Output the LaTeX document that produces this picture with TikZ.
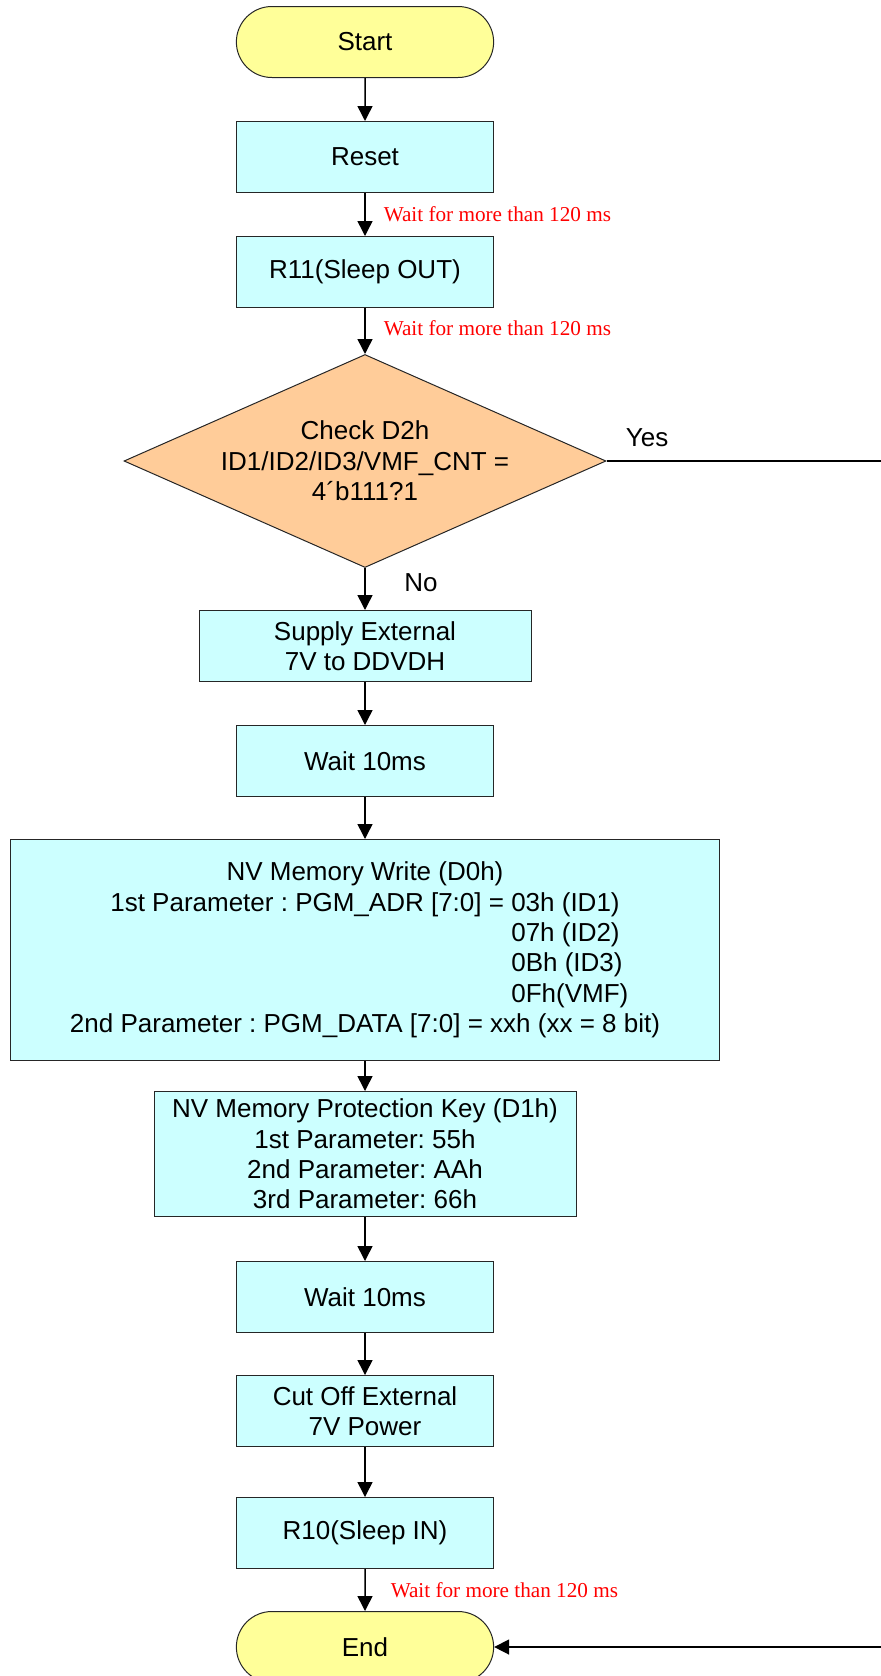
\documentclass[tikz,border=0pt]{standalone}
\usepackage{fontspec}
\setmainfont{Liberation Sans}
\newfontfamily\notefont{Liberation Serif}
\usepackage{tikz}
\usetikzlibrary{arrows.meta, shapes.geometric, shapes.misc, positioning}
\frenchspacing
\definecolor{termyellow}{RGB}{255,255,153}
\definecolor{boxcyan}{RGB}{204,255,255}
\definecolor{decorange}{RGB}{255,204,153}
\newcommand{\adrpre}{1st Parameter : PGM\_ADR [7:0] = }
\newlength\adrwd
\newcommand{\adrrow}[1]{\settowidth{\adrwd}{\adrpre 03h (ID1)}\makebox[\adrwd][l]{\hphantom{\adrpre}#1}}
\tikzset{
  termnode/.style={
    rounded rectangle, minimum width=135.3pt, minimum height=35.5pt,
    draw=black!85, line width=0.5pt, fill=termyellow,
    font=\fontsize{13}{15.2}\selectfont
  },
  procbox/.style={
    rectangle, minimum width=128.5pt, minimum height=35.5pt,
    align=center, draw=black!85, line width=0.5pt, fill=boxcyan,
    font=\fontsize{13}{15.2}\selectfont
  },
  decnode/.style={
    diamond, aspect=2.26, minimum width=241pt, minimum height=106.5pt,
    inner sep=0pt, align=center, draw=black!85, line width=0.5pt,
    fill=decorange, font=\fontsize{13}{15.2}\selectfont
  },
  flowarrow/.style={-{Triangle[width=7.5pt,length=7.5pt]}, line width=0.75pt, black},
  waitnote/.style={anchor=west, inner sep=0pt, text=red,
    font=\notefont\fontsize{10.6}{12}\selectfont},
  branchlbl/.style={inner sep=0pt, font=\fontsize{13}{15.2}\selectfont},
}

\begin{document}
\begin{tikzpicture}[x=0.5pt, y=-0.5pt]
  \useasboundingbox (0,0) rectangle (880,1676);
  % main column
  \node[termnode] (begin) at (365,42) {Start};
  \node[procbox] (reset) at (365,157) {Reset};
  \node[procbox] (sleepout) at (365,272) {R11(Sleep OUT)};
  \node[decnode] (check) at (365,461) {Check D2h\\ID1/ID2/ID3/VMF\_CNT =\\4´b111?1};
  \node[procbox, minimum width=166pt] (supply) at (365,646) {Supply External\\7V to DDVDH};
  \node[procbox] (waitA) at (365,761) {Wait 10ms};
  \node[procbox, minimum width=354.5pt, minimum height=110.5pt] (nvwrite) at (365,950)
    {NV Memory Write (D0h)\\ \adrpre 03h (ID1)\\ \adrrow{07h (ID2)}\\ \adrrow{0Bh (ID3)}\\ \adrrow{0Fh(VMF)}\\ 2nd Parameter : PGM\_DATA [7:0] = xxh (xx = 8 bit)};
  \node[procbox, minimum width=211pt, minimum height=62.5pt] (protkey) at (365,1154)
    {NV Memory Protection Key (D1h)\\1st Parameter: 55h\\2nd Parameter: AAh\\3rd Parameter: 66h};
  \node[procbox] (waitB) at (365,1297) {Wait 10ms};
  \node[procbox] (cutoff) at (365,1411) {Cut Off External\\7V Power};
  \node[procbox] (sleepin) at (365,1533) {R10(Sleep IN)};
  \node[termnode] (finish) at (365,1647) {End};
  % branch labels
  \node[branchlbl, anchor=south west] (yes) at ([xshift=9.5pt, yshift=7pt]check.east) {Yes};
  \node[branchlbl, anchor=north west] (no) at ([xshift=19.5pt, yshift=-2.5pt]check.south) {No};
  \coordinate (rtop) at (884,461);
  % connectors
  \draw[flowarrow] (begin) -- (reset);
  \draw[flowarrow] (reset) -- node[waitnote, xshift=9pt] (noteA) {Wait for more than 120 ms} (sleepout);
  \draw[flowarrow] (sleepout) -- node[waitnote, xshift=9pt, yshift=1.3pt] (noteB) {Wait for more than 120 ms} (check);
  \draw[flowarrow] (check) -- (supply);
  \draw[flowarrow] (supply) -- (waitA);
  \draw[flowarrow] (waitA) -- (nvwrite);
  \draw[flowarrow] (nvwrite) -- (protkey);
  \draw[flowarrow] (protkey) -- (waitB);
  \draw[flowarrow] (waitB) -- (cutoff);
  \draw[flowarrow] (cutoff) -- (sleepin);
  \draw[flowarrow] (sleepin) -- node[waitnote, xshift=12.5pt] (noteC) {Wait for more than 120 ms} (finish);
  \draw[flowarrow] (check.east) -- (rtop) |- (finish.east);
\end{tikzpicture}
\end{document}
